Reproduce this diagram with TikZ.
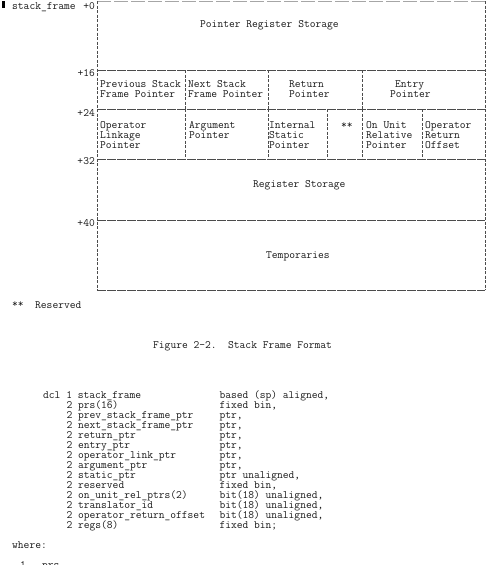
\documentclass[tikz,border=0pt]{standalone}
\usepackage{fontspec}
\begin{document}
\begin{tikzpicture}[x=1pt,y=-1pt,
  txt/.style={font=\ttfamily\fontsize{11.2}{10}\selectfont, inner sep=0pt, anchor=base west, text=black!90},
  lbl/.style={font=\ttfamily\fontsize{11.2}{10}\selectfont, inner sep=0pt, anchor=base east, text=black!90},
  hline/.style={draw=black!70, line width=0.7pt, dash pattern=on 9pt off 1pt},
  vline/.style={draw=black!70, line width=0.7pt, dash pattern=on 3pt off 1.5pt},
  topline/.style={draw=black!35, line width=0.6pt, dash pattern=on 14pt off 3pt}]
\clip (0,0) rectangle (487,565);
\useasboundingbox (0,0) rectangle (487,565);
% frame coordinates
\coordinate (tl) at (97,1);
\coordinate (tr) at (485,1);
\coordinate (bl) at (97,290);
\coordinate (br) at (485,290);
% outer box
\draw[topline] (tl) -- (tr);
\draw[vline] (tl) -- (bl);
\draw[vline] (tr) -- (br);
\foreach \yy in {70,109,159,220,290} {\draw[hline] (97,\yy) -- (485,\yy);}
% row 2 dividers
\foreach \xx in {185,268,362} {\draw[vline] (\xx,70) -- (\xx,109);}
% row 3 dividers
\foreach \xx in {185,268,327,362,422} {\draw[vline] (\xx,109) -- (\xx,159);}
% change bar
\fill[black] (2,1) rectangle (5,8);
% offset labels
\node[txt] (sf) at (12,9) {stack\_frame};
\node[lbl] (o0) at (95,9) {+0};
\node[lbl] (o16) at (95,76) {+16};
\node[lbl] (o24) at (95,116) {+24};
\node[lbl] (o32) at (95,164) {+32};
\node[lbl] (o40) at (95,226) {+40};
% row 1
\node[txt] (prs) at (200,27) {Pointer Register Storage};
% row 2
\node[txt] (psa) at (100,87) {Previous Stack};
\node[txt] (psb) at (100,97) {Frame Pointer};
\node[txt] (nsa) at (188,87) {Next Stack};
\node[txt] (nsb) at (188,97) {Frame Pointer};
\node[txt] (rpa) at (289,87) {Return};
\node[txt] (rpb) at (289,97) {Pointer};
\node[txt] (epa) at (395,87) {Entry};
\node[txt] (epb) at (390,97) {Pointer};
% row 3
\node[txt] (ola) at (100,128) {Operator};
\node[txt] (olb) at (100,138) {Linkage};
\node[txt] (olc) at (100,148) {Pointer};
\node[txt] (apa) at (189,128) {Argument};
\node[txt] (apb) at (189,138) {Pointer};
\node[txt] (isa) at (269,128) {Internal};
\node[txt] (isb) at (269,138) {Static};
\node[txt] (isc) at (269,148) {Pointer};
\node[txt] (rsv) at (341,128) {**};
\node[txt] (oua) at (366,128) {On Unit};
\node[txt] (oub) at (366,138) {Relative};
\node[txt] (ouc) at (366,148) {Pointer};
\node[txt] (ora) at (425,128) {Operator};
\node[txt] (orb) at (425,138) {Return};
\node[txt] (orc) at (425,148) {Offset};
% row 4,5
\node[txt] (rs) at (253,187) {Register Storage};
\node[txt] (tmp) at (266,258) {Temporaries};
% footnote and caption
\node[txt] (fn1) at (12,307) {**};
\node[txt] (fn2) at (35,308) {Reserved};
\node[txt] (cap) at (153,348) {Figure 2-2.~~Stack Frame Format};
% declaration
\node[txt] (dcl) at (43,398) {dcl 1 stack\_frame};
\node[txt] (dclt) at (219.3,398) {based (sp) aligned,};
\foreach \nm/\ty [count=\i] in {
  {prs(16)}/{fixed bin,},
  {prev\_stack\_frame\_ptr}/{ptr,},
  {next\_stack\_frame\_ptr}/{ptr,},
  {return\_ptr}/{ptr,},
  {entry\_ptr}/{ptr,},
  {operator\_link\_ptr}/{ptr,},
  {argument\_ptr}/{ptr,},
  {static\_ptr}/{ptr unaligned,},
  {reserved}/{fixed bin,},
  {on\_unit\_rel\_ptrs(2)}/{bit(18) unaligned,},
  {translator\_id}/{bit(18) unaligned,},
  {operator\_return\_offset}/{bit(18) unaligned,},
  {regs(8)}/{fixed bin;}} {
  \node[txt] (nm\i) at (66.4,398+10*\i) {2 \nm};
  \node[txt] (ty\i) at (219.3,398+10*\i) {\ty};
}
\node[txt] (wh) at (12,548) {where:};
\node[txt] (w1) at (20,568) {1};
\node[txt] (w2) at (42,568) {prs};
\end{tikzpicture}
\end{document}
